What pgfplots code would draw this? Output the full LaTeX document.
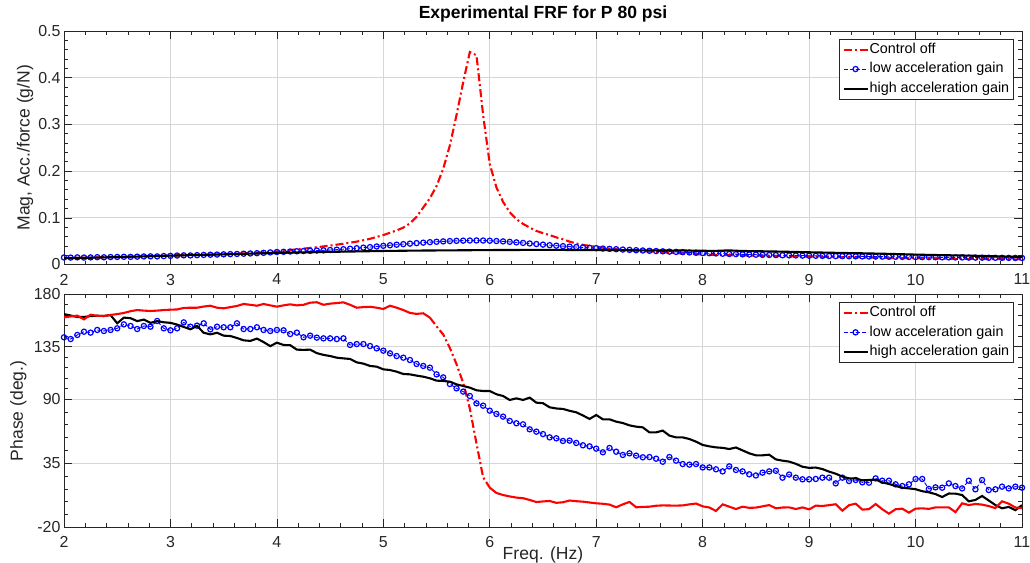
\documentclass[border=0pt]{standalone}
\usepackage{fontspec}
\setmainfont{Liberation Sans}
\usepackage{pgfplots}
\pgfplotsset{compat=1.18}
\usepackage{pgfplotstable}

\definecolor{axgray}{rgb}{0.15,0.15,0.15}

% magnitude, acc./force (g/N)
\pgfplotstableread{
f red blue black
2.0000 0.0140 0.0150 0.0135
2.0625 0.0142 0.0148 0.0138
2.1250 0.0145 0.0153 0.0140
2.1875 0.0147 0.0149 0.0143
2.2500 0.0150 0.0152 0.0145
2.3125 0.0152 0.0157 0.0148
2.3750 0.0155 0.0154 0.0152
2.4375 0.0157 0.0160 0.0155
2.5000 0.0160 0.0162 0.0160
2.5625 0.0164 0.0165 0.0163
2.6250 0.0167 0.0163 0.0167
2.6875 0.0171 0.0168 0.0170
2.7500 0.0175 0.0172 0.0174
2.8125 0.0179 0.0175 0.0178
2.8750 0.0182 0.0173 0.0181
2.9375 0.0186 0.0180 0.0185
3.0000 0.0190 0.0185 0.0190
3.0625 0.0194 0.0192 0.0193
3.1250 0.0198 0.0196 0.0196
3.1875 0.0201 0.0194 0.0200
3.2500 0.0205 0.0200 0.0203
3.3125 0.0209 0.0205 0.0207
3.3750 0.0212 0.0209 0.0210
3.4375 0.0216 0.0213 0.0214
3.5000 0.0220 0.0218 0.0218
3.5625 0.0226 0.0222 0.0221
3.6250 0.0232 0.0226 0.0225
3.6875 0.0238 0.0231 0.0228
3.7500 0.0245 0.0236 0.0232
3.8125 0.0253 0.0242 0.0236
3.8750 0.0262 0.0250 0.0240
3.9375 0.0271 0.0259 0.0244
4.0000 0.0280 0.0268 0.0248
4.0625 0.0295 0.0272 0.0251
4.1250 0.0310 0.0278 0.0254
4.1875 0.0325 0.0283 0.0257
4.2500 0.0340 0.0288 0.0260
4.3125 0.0355 0.0294 0.0262
4.3750 0.0370 0.0299 0.0265
4.4375 0.0388 0.0304 0.0268
4.5000 0.0405 0.0310 0.0270
4.5625 0.0425 0.0318 0.0273
4.6250 0.0445 0.0328 0.0275
4.6875 0.0467 0.0338 0.0278
4.7500 0.0490 0.0349 0.0280
4.8125 0.0520 0.0361 0.0283
4.8750 0.0550 0.0373 0.0285
4.9375 0.0590 0.0386 0.0288
5.0000 0.0630 0.0400 0.0290
5.0625 0.0680 0.0412 0.0292
5.1250 0.0730 0.0424 0.0293
5.1875 0.0790 0.0436 0.0295
5.2500 0.0880 0.0447 0.0296
5.3125 0.1020 0.0458 0.0298
5.3750 0.1220 0.0468 0.0299
5.4375 0.1420 0.0478 0.0300
5.5000 0.1680 0.0487 0.0301
5.5625 0.2050 0.0495 0.0302
5.6250 0.2550 0.0502 0.0303
5.6875 0.3200 0.0507 0.0304
5.7500 0.3900 0.0511 0.0305
5.8125 0.4550 0.0514 0.0306
5.8750 0.4480 0.0515 0.0307
5.9375 0.3200 0.0513 0.0308
6.0000 0.2150 0.0509 0.0309
6.0625 0.1650 0.0503 0.0310
6.1250 0.1340 0.0495 0.0310
6.1875 0.1120 0.0485 0.0311
6.2500 0.0970 0.0474 0.0311
6.3125 0.0870 0.0462 0.0312
6.3750 0.0790 0.0450 0.0312
6.4375 0.0720 0.0438 0.0312
6.5000 0.0670 0.0426 0.0312
6.5625 0.0630 0.0414 0.0312
6.6250 0.0580 0.0403 0.0312
6.6875 0.0540 0.0393 0.0312
6.7500 0.0490 0.0383 0.0311
6.8125 0.0450 0.0374 0.0311
6.8750 0.0420 0.0366 0.0311
6.9375 0.0400 0.0358 0.0311
7.0000 0.0380 0.0350 0.0310
7.0625 0.0360 0.0342 0.0310
7.1250 0.0340 0.0335 0.0309
7.1875 0.0328 0.0328 0.0308
7.2500 0.0315 0.0320 0.0307
7.3125 0.0305 0.0313 0.0306
7.3750 0.0296 0.0306 0.0305
7.4375 0.0288 0.0300 0.0303
7.5000 0.0280 0.0294 0.0302
7.5625 0.0271 0.0288 0.0301
7.6250 0.0262 0.0282 0.0300
7.6875 0.0253 0.0276 0.0299
7.7500 0.0245 0.0270 0.0298
7.8125 0.0237 0.0264 0.0302
7.8750 0.0229 0.0258 0.0297
7.9375 0.0222 0.0252 0.0295
8.0000 0.0215 0.0246 0.0294
8.0625 0.0211 0.0241 0.0293
8.1250 0.0207 0.0236 0.0292
8.1875 0.0203 0.0231 0.0298
8.2500 0.0200 0.0226 0.0302
8.3125 0.0198 0.0222 0.0295
8.3750 0.0195 0.0218 0.0290
8.4375 0.0193 0.0214 0.0287
8.5000 0.0190 0.0210 0.0285
8.5625 0.0188 0.0207 0.0283
8.6250 0.0185 0.0204 0.0280
8.6875 0.0183 0.0201 0.0278
8.7500 0.0180 0.0198 0.0275
8.8125 0.0178 0.0195 0.0272
8.8750 0.0175 0.0193 0.0268
8.9375 0.0173 0.0190 0.0265
9.0000 0.0170 0.0188 0.0262
9.0625 0.0168 0.0186 0.0259
9.1250 0.0165 0.0184 0.0256
9.1875 0.0163 0.0182 0.0253
9.2500 0.0160 0.0180 0.0250
9.3125 0.0158 0.0178 0.0248
9.3750 0.0155 0.0176 0.0245
9.4375 0.0153 0.0175 0.0243
9.5000 0.0150 0.0173 0.0240
9.5625 0.0148 0.0171 0.0237
9.6250 0.0145 0.0170 0.0234
9.6875 0.0143 0.0168 0.0231
9.7500 0.0140 0.0166 0.0228
9.8125 0.0139 0.0165 0.0224
9.8750 0.0138 0.0163 0.0220
9.9375 0.0136 0.0162 0.0216
10.0000 0.0135 0.0160 0.0212
10.0625 0.0132 0.0158 0.0209
10.1250 0.0130 0.0157 0.0206
10.1875 0.0127 0.0155 0.0203
10.2500 0.0125 0.0154 0.0200
10.3125 0.0124 0.0152 0.0198
10.3750 0.0122 0.0151 0.0195
10.4375 0.0121 0.0150 0.0193
10.5000 0.0120 0.0148 0.0190
10.5625 0.0119 0.0147 0.0187
10.6250 0.0118 0.0146 0.0183
10.6875 0.0116 0.0145 0.0180
10.7500 0.0115 0.0144 0.0176
10.8125 0.0114 0.0143 0.0172
10.8750 0.0112 0.0142 0.0168
10.9375 0.0111 0.0141 0.0164
11.0000 0.0110 0.0140 0.0160
}\magdata

% phase (deg.)
\pgfplotstableread{
f red blue black
2.0000 160.2 143.1 163.0
2.0625 161.0 141.6 161.8
2.1250 161.7 145.1 160.5
2.1875 158.5 147.9 160.5
2.2500 162.5 147.1 161.3
2.3125 161.5 149.4 161.6
2.3750 161.4 148.5 161.4
2.4375 162.3 149.4 162.2
2.5000 163.0 150.8 155.1
2.5625 164.0 154.2 160.0
2.6250 165.5 152.8 159.5
2.6875 166.5 150.2 157.0
2.7500 166.0 152.8 158.3
2.8125 165.7 152.2 155.5
2.8750 166.0 157.1 157.0
2.9375 166.5 150.8 156.0
3.0000 166.8 149.1 155.5
3.0625 167.0 150.8 154.0
3.1250 168.3 155.9 152.0
3.1875 168.5 152.2 150.0
3.2500 168.5 153.1 152.8
3.3125 169.5 155.1 147.0
3.3750 170.2 149.9 145.6
3.4375 168.5 152.2 147.0
3.5000 168.0 151.7 144.5
3.5625 169.0 151.7 144.2
3.6250 170.0 155.1 142.5
3.6875 171.7 150.2 140.5
3.7500 171.0 150.2 140.0
3.8125 170.2 151.7 142.0
3.8750 171.7 149.4 139.0
3.9375 170.5 148.5 135.5
4.0000 169.4 149.4 138.5
4.0625 170.5 149.1 136.5
4.1250 171.4 145.9 136.3
4.1875 170.5 147.1 132.5
4.2500 171.0 143.1 132.3
4.3125 172.8 144.5 132.5
4.3750 173.2 142.8 129.5
4.4375 171.0 142.2 128.0
4.5000 172.0 142.2 127.0
4.5625 172.5 141.6 125.6
4.6250 173.1 142.2 125.0
4.6875 171.0 136.5 124.5
4.7500 168.5 137.3 121.6
4.8125 169.0 137.3 120.5
4.8750 169.3 135.6 118.5
4.9375 168.5 133.6 117.9
5.0000 167.4 131.6 115.6
5.0625 170.2 129.3 115.0
5.1250 168.5 127.0 113.6
5.1875 166.5 125.6 111.6
5.2500 164.0 123.6 111.3
5.3125 163.2 120.2 110.2
5.3750 163.7 118.5 109.3
5.4375 160.0 117.0 107.9
5.5000 152.5 111.3 105.9
5.5625 145.5 108.7 105.6
5.6250 134.0 103.0 105.0
5.6875 120.0 99.3 102.7
5.7500 104.0 96.5 101.3
5.8125 82.0 92.7 99.9
5.8750 52.0 86.4 97.6
5.9375 23.0 84.4 97.0
6.0000 14.0 80.1 97.0
6.0625 9.5 77.3 94.2
6.1250 7.7 75.0 92.7
6.1875 6.5 71.3 89.3
6.2500 5.5 69.3 90.7
6.3125 5.0 68.4 89.3
6.3750 3.5 64.1 91.3
6.4375 1.7 62.1 87.0
6.5000 2.2 60.0 86.5
6.5625 2.6 57.2 83.0
6.6250 1.0 56.4 82.0
6.6875 1.5 54.1 81.6
6.7500 3.0 54.4 80.0
6.8125 2.4 52.4 78.7
6.8750 2.0 50.4 76.0
6.9375 1.3 49.5 73.0
7.0000 0.6 47.5 76.4
7.0625 0.2 44.4 72.7
7.1250 -0.5 48.1 72.7
7.1875 -2.8 44.9 70.7
7.2500 -0.3 42.1 69.5
7.3125 1.8 43.5 67.5
7.3750 -2.8 41.5 66.4
7.4375 -2.5 40.1 65.8
7.5000 -2.3 40.3 61.5
7.5625 -1.5 38.9 61.5
7.6250 -1.2 36.3 63.0
7.6875 -1.3 40.3 58.7
7.7500 -1.4 37.2 57.2
7.8125 -1.2 34.3 57.2
7.8750 -0.3 33.8 55.8
7.9375 0.4 34.3 53.5
8.0000 -2.0 31.4 50.7
8.0625 -3.0 31.4 49.5
8.1250 -6.0 29.8 48.6
8.1875 -0.3 28.0 48.2
8.2500 -2.3 32.3 47.2
8.3125 -4.3 29.2 48.5
8.3750 -2.3 28.0 46.0
8.4375 -3.3 25.5 43.5
8.5000 -3.1 24.5 41.8
8.5625 -2.0 26.9 41.8
8.6250 -0.9 28.0 42.3
8.6875 -3.7 28.5 38.3
8.7500 -3.0 22.6 37.2
8.8125 -2.9 25.3 36.4
8.8750 -4.3 22.6 34.5
8.9375 -2.9 21.2 32.0
9.0000 -4.6 21.2 31.0
9.0625 -1.4 21.5 31.3
9.1250 -1.7 22.6 30.0
9.1875 -1.0 22.6 27.8
9.2500 -0.2 17.7 26.0
9.3125 -5.7 22.6 23.5
9.3750 -1.0 19.7 22.0
9.4375 0.3 20.6 22.0
9.5000 -4.8 18.6 20.3
9.5625 -4.4 18.3 20.6
9.6250 0.0 22.0 21.0
9.6875 -4.5 20.0 18.5
9.7500 -8.3 20.0 17.2
9.8125 -4.5 16.9 15.5
9.8750 -4.0 15.4 14.0
9.9375 -7.4 16.9 13.4
10.0000 -4.0 21.5 12.7
10.0625 -3.7 21.5 11.0
10.1250 -4.2 12.9 10.0
10.1875 -2.9 14.3 8.5
10.2500 -2.9 14.0 6.0
10.3125 -2.9 17.7 9.0
10.3750 -7.0 15.4 8.9
10.4375 0.6 13.4 7.7
10.5000 -0.9 20.0 2.3
10.5625 0.0 12.6 3.5
10.6250 -0.5 20.6 6.9
10.6875 -1.8 12.0 3.0
10.7500 -3.5 12.6 -0.9
10.8125 2.3 14.9 -3.7
10.8750 0.3 13.4 -2.5
10.9375 -3.0 14.9 -5.3
11.0000 -3.5 14.0 -1.0
}\phasedata

\pgfplotsset{
  frf/.style={
    scale only axis,
    width=958bp,
    xmin=2, xmax=11,
    xtick={2,...,11},
    minor x tick num=4,
    tick pos=both,
    xticklabel pos=left, yticklabel pos=left,
    tick align=inside,
    major tick length=8bp, minor tick length=4bp,
    tick style={axgray, line width=0.6bp},
    axis line style={axgray, line width=0.7bp},
    grid=major,
    major grid style={black!16, line width=0.7bp},
    tick label style={font=\fontsize{16}{18}\selectfont, text=axgray},
    /pgf/number format/assume math mode=true,
    xticklabel style={yshift=-6bp},
    label style={font=\fontsize{17.6}{20}\selectfont, text=axgray, inner sep=0pt},
    legend cell align=left,
    legend style={at={(1,1)}, anchor=north east, xshift=-8.5bp, yshift=-8bp,
      draw=axgray, line width=0.6bp, fill=white,
      font=\fontsize{14.4}{16}\selectfont,
      inner xsep=3bp, inner ysep=0.5bp, row sep=0bp, column sep=0bp,
      nodes={inner xsep=1bp, inner ysep=2.5bp, text height=11bp, text depth=3.5bp}},
    legend image code/.code={\draw[mark repeat=2,mark phase=2,##1] plot coordinates {(0bp,0bp) (12bp,0bp) (24bp,0bp)};},
    clip mode=individual,
  },
  redline/.style={color=red, line width=2.1bp, dash pattern=on 8bp off 3bp on 2bp off 3bp},
  blueline/.style={color=blue, line width=0.9bp, dash pattern=on 4bp off 2bp,
    mark=o, mark size=2.6bp, mark options={solid, line width=1.2bp}},
  blackline/.style={color=black, line width=2.1bp, solid},
}

\begin{document}
\begin{tikzpicture}

\begin{axis}[frf,
  at={(64bp,-264.5bp)}, anchor=south west,
  height=233.5bp,
  ymin=0, ymax=0.5,
  ytick={0,0.1,0.2,0.3,0.4,0.5},
  yticklabels={0,0.1,0.2,0.3,0.4,0.5},
  minor y tick num=4,
  title={Experimental FRF for P 80 psi},
  title style={font=\bfseries\fontsize{17.6}{20}\selectfont, at={(axis description cs:0.5,1)}, anchor=base, yshift=7bp, inner sep=0pt},
  ylabel={Mag, Acc./force (g/N)},
  ylabel style={at={(axis description cs:0,0.5)}, anchor=center, yshift=39bp},
]
\addplot[redline] table[x=f, y=red] {\magdata};
\addlegendentry{Control off}
\addplot[blueline] table[x=f, y=blue] {\magdata};
\addlegendentry{low acceleration gain}
\addplot[blackline] table[x=f, y=black] {\magdata};
\addlegendentry{high acceleration gain}
\end{axis}

\begin{axis}[frf,
  at={(64bp,-527.3bp)}, anchor=south west,
  height=233bp,
  ymin=-20, ymax=180,
  ytick={-20,35,90,135,180},
  yticklabels={-20,35,90,135,180},
  minor ytick={-9,2,13,24,46,57,68,79,99,108,117,126,144,153,162,171},
  xlabel={Freq. (Hz)},
  xlabel style={at={(axis description cs:0.5,0)}, anchor=north, yshift=-19bp},
  ylabel={Phase (deg.)},
  ylabel style={at={(axis description cs:0,0.5)}, anchor=center, yshift=45.7bp},
]
% steep part of the control-off phase is drawn dash-dot, the flat parts solid
\addplot[redline, restrict x to domain=5.43:6.01] table[x=f, y=red] {\phasedata};
\addlegendentry{Control off}
\addplot[blueline] table[x=f, y=blue] {\phasedata};
\addlegendentry{low acceleration gain}
\addplot[blackline] table[x=f, y=black] {\phasedata};
\addlegendentry{high acceleration gain}
\addplot[color=red, line width=2.1bp, forget plot, restrict x to domain=2:5.44] table[x=f, y=red] {\phasedata};
\addplot[color=red, line width=2.1bp, forget plot, restrict x to domain=5.99:11] table[x=f, y=red] {\phasedata};
\end{axis}

\pgfresetboundingbox
\useasboundingbox (0bp,0bp) rectangle (1030bp,-563bp);
\end{tikzpicture}
\end{document}
